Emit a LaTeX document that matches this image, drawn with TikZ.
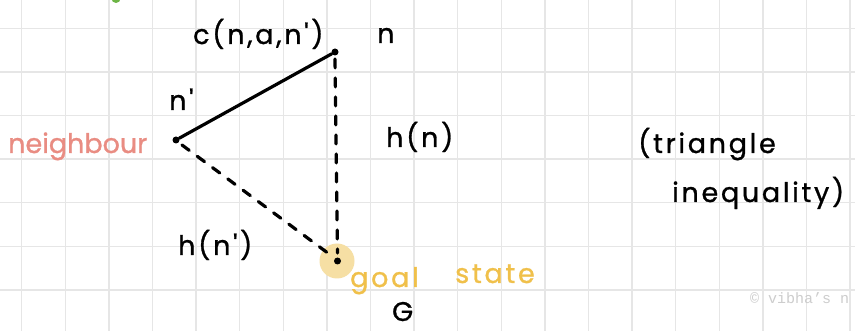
\documentclass[tikz,border=0pt]{standalone}
\usepackage{fontspec}
\setmainfont{Poppins}
\newfontfamily\handfont[LetterSpace=10,FakeBold=1]{Poppins}
\newfontfamily\handtight[FakeBold=1]{Poppins}
\newfontfamily\wmfont{Liberation Mono}
\definecolor{gridc}{HTML}{E6E6E6}
\definecolor{pinkc}{HTML}{E98C82}
\definecolor{goldc}{HTML}{F0C04A}
\definecolor{paleg}{HTML}{F6DFA4}
\definecolor{greenc}{HTML}{6DB545}
\definecolor{wmc}{HTML}{CDCDCD}
\tikzset{
  hand/.style={font=\handfont\fontsize{27}{30}\selectfont, inner sep=0pt, anchor=base west},
  handt/.style={font=\handtight\fontsize{27}{30}\selectfont, inner sep=0pt, anchor=base west},
  pt/.style={circle, fill=black, inner sep=0pt, minimum size=7pt},
  solidedge/.style={line width=3.2pt, line cap=round},
  dashedge/.style={line width=3.2pt, line cap=round, dash pattern=on 9pt off 10pt},
}
\begin{document}
\begin{tikzpicture}[x=1pt,y=-1pt]
\clip (0,0) rectangle (855,331);
\fill[white] (0,0) rectangle (855,331);
% grid
\foreach \k in {0,...,19} \draw[gridc, line width=1.4pt] (21.7+43.6*\k,0) -- (21.7+43.6*\k,331);
\foreach \k in {0,...,6} \draw[gridc, line width=1.4pt] (0,28.3+43.6*\k) -- (855,28.3+43.6*\k);
% green dot at top
\fill[greenc] (116,-1.5) circle (4.5);
% goal highlight
\fill[paleg] (337,261) circle (17.5);
% points
\node[pt] (n) at (335,52) {};
\node[pt] (np) at (176,140) {};
\node[pt] (g) at (337.5,261) {};
% connectors
\draw[solidedge] (np) -- (n);
\draw[dashedge] ([yshift=-7pt]n.center) -- ([yshift=8pt]g.center);
\draw[dashedge] ([xshift=6pt,yshift=-5pt]np.center) -- ([xshift=-7pt,yshift=6pt]g.center);
% labels
\node[hand] (lc) at (193,44) {c(n,a,n')};
\node[hand] (ln) at (377,43) {n};
\node[hand] (lnp) at (169,110) {n'};
\node[handt, text=pinkc] (lnb) at (8,153) {neighbour};
\node[hand] (lh) at (386,147) {h(n)};
\node[hand] (lt1) at (638,153) {(triangle};
\node[hand] (lt2) at (672,202) {inequality)};
\node[hand] (lhp) at (178,255) {h(n')};
\node[hand, text=goldc] (lgoal) at (350,287) {goal};
\node[hand, text=goldc] (lstate) at (455,283) {state};
\node[hand] (lG) at (392,321) {G};
\node[inner sep=0pt, anchor=base west, text=wmc, font=\wmfont\fontsize{15}{18}\selectfont] (wm) at (750,304) {© vibha’s n};
\end{tikzpicture}
\end{document}
